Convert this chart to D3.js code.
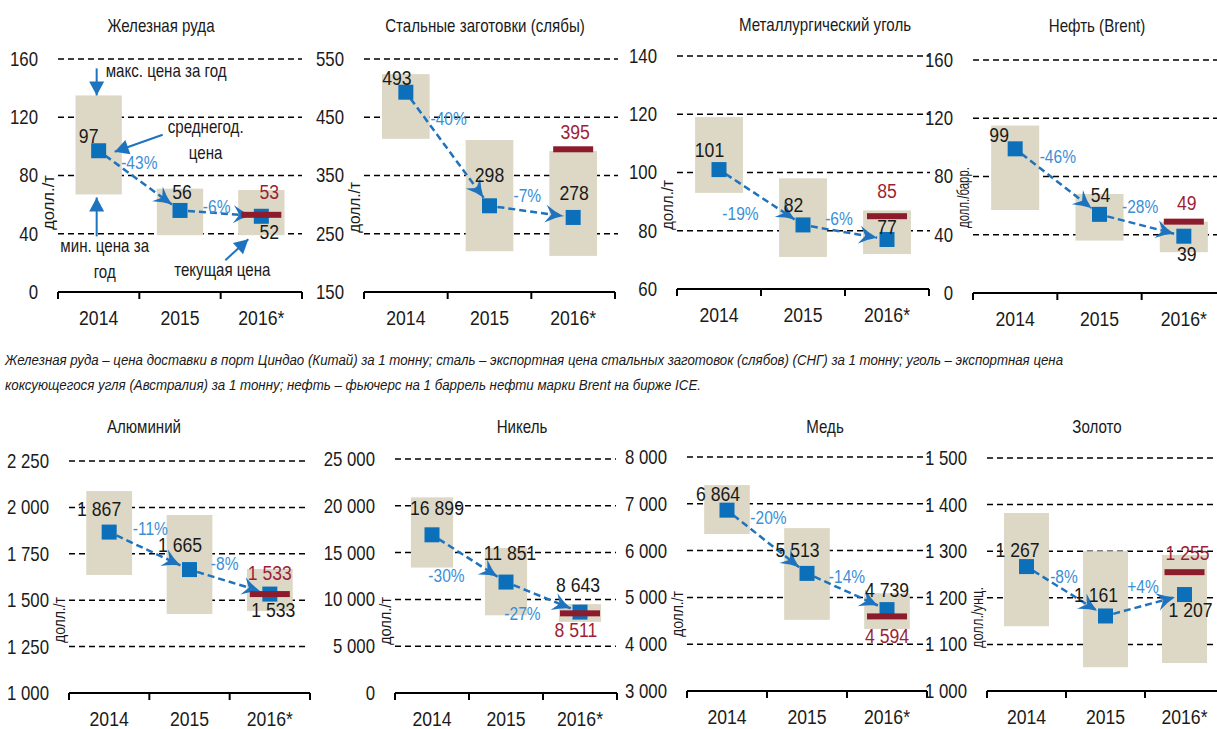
<!DOCTYPE html>
<meta charset="utf-8">
<script src="https://cdn.jsdelivr.net/npm/d3@7"></script>
<style>
body { margin: 0; background: #fff; }
text { font-family: "Liberation Sans", Arial, sans-serif; fill: #1a1a1a; }
.grid line { stroke: #000; stroke-width: 1.5px; stroke-dasharray: 6,4; }
.box { fill: #ddd8c5; }
.avg { fill: #0b6fba; }
.cur { fill: #8c1c2c; }
.chg { fill: #3b8fd6; }
.curlbl { fill: #9e1f35; }
.trend { fill: none; stroke: #1e73be; stroke-width: 2.5px; stroke-dasharray: 7,4; }
.note line { stroke: #1e73be; stroke-width: 2px; }
</style>
<body>
<script>

var years = ["2014", "2015", "2016*"];
var titles = ["Железная руда", "Стальные заготовки (слябы)", "Металлургический уголь", "Нефть (Brent)",
              "Алюминий", "Никель", "Медь", "Золото"];
var units = ["долл./т", "долл./т", "долл./т", "долл./барр.", "долл./т", "долл./т", "долл./т", "долл./унц."];

// среднегодовая цена
var avgPrice = [[97, 56, 52], [493, 298, 278], [101, 82, 77], [99, 54, 39],
                [1867, 1665, 1533], [16899, 11851, 8643], [6864, 5513, 4739], [1267, 1161, 1207]];
// макс. и мин. цена за год
var maxPrice = [[135, 71, 70], [524, 411, 392], [119, 98, 87], [115, 68, 49],
                [2088, 1959, 1668], [20900, 15500, 9500], [7400, 6480, 5090], [1382, 1300, 1292]];
var minPrice = [[67, 39, 39], [413, 220, 212], [93, 71, 72], [57, 36, 28],
                [1636, 1426, 1442], [13400, 8300, 7600], [6355, 4520, 4325], [1139, 1051, 1060]];
// текущая цена
var curPrice = [53, 395, 85, 49, 1533, 8511, 4594, 1255];
var changes = [["-43%", "-6%"], ["-40%", "-7%"], ["-19%", "-6%"], ["-46%", "-28%"],
               ["-11%", "-8%"], ["-30%", "-27%"], ["-20%", "-14%"], ["-8%", "+4%"]];
var yTicks = [[0, 40, 80, 120, 160], [150, 250, 350, 450, 550], [60, 80, 100, 120, 140], [0, 40, 80, 120, 160],
              [1000, 1250, 1500, 1750, 2000, 2250], [0, 5000, 10000, 15000, 20000, 25000],
              [3000, 4000, 5000, 6000, 7000, 8000], [1000, 1100, 1200, 1300, 1400, 1500]];

var footnote = ["Железная руда – цена доставки в порт Циндао (Китай) за 1 тонну; сталь – экспортная цена стальных заготовок (слябов) (СНГ) за 1 тонну; уголь – экспортная цена",
                "коксующегося угля (Австралия) за 1 тонну; нефть – фьючерс на 1 баррель нефти марки Brent на бирже ICE."];

// panel placement and label offsets (pixels)
var layout = [
  {x0: 58, x1: 302, gx: 302, top: 59, bot: 292, tx: 161, ty: 32, uy: 230, uw: 55,
   avgOff: [[-10, -8], [2, -11], [8, 23]], curOff: [8, -16], chgOff: [[0, -12], [-4, 0]]},
  {x0: 364, x1: 615, gx: 618, top: 59, bot: 292, tx: 485, ty: 32, uy: 233, uw: 51,
   avgOff: [[-9, -7], [0, -24], [1, -17]], curOff: [2, -10], chgOff: [[1, -24], [-4, -10]]},
  {x0: 677, x1: 929, gx: 930, top: 56, bot: 289, tx: 825, ty: 31, uy: 230, uw: 50,
   avgOff: [[-9.5, -12.6], [-9.5, -13], [0, -5]], curOff: [0, -18], chgOff: [[-20.5, 23], [-6, -7]]},
  {x0: 973, x1: 1226, gx: 1217, top: 60, bot: 293, tx: 1097, ty: 32, uy: 228, uw: 61,
   avgOff: [[-16, -6.5], [1, -12], [3, 25]], curOff: [3, -12], chgOff: [[0.5, -19], [-1.5, -12.5]]},
  {x0: 69, x1: 310, gx: 306, top: 461, bot: 693, tx: 144, ty: 433, uy: 643, uw: 46,
   avgOff: [[-10, -16], [-9.5, -17.5], [3.5, 23]], curOff: [0, -14], chgOff: [[1, -16], [-5, -12]]},
  {x0: 395, x1: 617, gx: 616, top: 459, bot: 693, tx: 522, ty: 433, uy: 645, uw: 48,
   avgOff: [[5, -20], [4, -22], [-2, -20]], curOff: [-4, 24], chgOff: [[-22.5, 23.5], [-20.5, 23]]},
  {x0: 687, x1: 927, gx: 930, top: 457, bot: 691, tx: 825, ty: 433, uy: 637, uw: 46,
   avgOff: [[-9, -9], [-9.5, -16.5], [0, -12.6]], curOff: [0, 26.5], chgOff: [[1.5, -18], [0, -8.5]]},
  {x0: 987, x1: 1224, gx: 1217, top: 458, bot: 691, tx: 1097, ty: 433, uy: 648, uw: 61,
   avgOff: [[-9, -9.6], [-9.5, -14], [6, 22.5]], curOff: [3, -12], chgOff: [[-2, -8], [-2, -12]]}
];

var width = 1217, height = 729;
var S = 0.84;   // condensed look: squeeze text horizontally
var fmt = d3.formatLocale({decimal: ",", thousands: " ", grouping: [3], currency: ["", ""]}).format(",d");

function at(x, y, rot) {
  return "translate(" + x + "," + y + ")" + (rot ? " rotate(" + rot + ")" : "") + " scale(" + S + ",1)";
}

var svg = d3.select("body").append("svg")
    .attr("width", width)
    .attr("height", height);

var defs = svg.append("defs");
defs.append("marker")
    .attr("id", "chev")
    .attr("markerUnits", "userSpaceOnUse")
    .attr("viewBox", "-19 -10 21 20")
    .attr("markerWidth", 21).attr("markerHeight", 20)
    .attr("refX", 0).attr("refY", 0)
    .attr("orient", "auto")
  .append("path")
    .attr("d", "M0,0 Q-9,-3 -18,-9 L-12,0 L-18,9 Q-9,3 0,0 Z")
    .attr("fill", "#1e73be");
defs.append("marker")
    .attr("id", "tri")
    .attr("markerUnits", "userSpaceOnUse")
    .attr("viewBox", "-15 -8 16 16")
    .attr("markerWidth", 16).attr("markerHeight", 16)
    .attr("refX", 0).attr("refY", 0)
    .attr("orient", "auto")
  .append("path")
    .attr("d", "M0,0 L-14,-7.5 L-14,7.5 Z")
    .attr("fill", "#1e73be");

layout.forEach(function(L, i) {
  var g = svg.append("g");
  var x = d3.scaleBand().domain(years).range([L.x0, L.x1]).paddingInner(0.43).paddingOuter(0.215);
  var y = d3.scaleLinear().domain(d3.extent(yTicks[i])).range([L.bot, L.top]);
  var cx = function(j) { return x(years[j]) + x.bandwidth() / 2; };

  // title
  g.append("text")
      .attr("transform", at(L.tx, L.ty))
      .attr("text-anchor", "middle")
      .style("font-size", "18px")
      .text(titles[i]);

  // dashed grid
  g.append("g").attr("class", "grid")
    .selectAll("line")
    .data(yTicks[i].slice(1))
    .enter().append("line")
      .attr("x1", L.x0).attr("x2", L.gx)
      .attr("y1", function(d) { return y(d); })
      .attr("y2", function(d) { return y(d); });

  // y tick labels
  var ya = g.append("g")
      .attr("transform", "translate(" + L.x0 + ",0)")
      .call(d3.axisLeft(y).tickValues(yTicks[i]).tickSize(0).tickPadding(20).tickFormat(fmt));
  ya.select(".domain").remove();
  ya.selectAll("text")
      .attr("fill", "#1a1a1a")
      .attr("x", -20 / S)
      .attr("transform", "scale(" + S + ",1)")
      .style("font-size", "20px")
      .style("font-family", null);
  ya.attr("font-family", null);

  // x axis with ticks on band edges
  g.append("line")
      .attr("x1", L.x0).attr("x2", Math.min(L.x1, width))
      .attr("y1", L.bot).attr("y2", L.bot)
      .attr("stroke", "#000").attr("stroke-width", 2);
  g.selectAll(".xt")
    .data(d3.range(years.length + 1))
    .enter().append("line")
      .attr("x1", function(d) { return L.x0 + d * x.step(); })
      .attr("x2", function(d) { return L.x0 + d * x.step(); })
      .attr("y1", L.bot).attr("y2", L.bot + 7)
      .attr("stroke", "#000").attr("stroke-width", 2);
  g.selectAll(".xl")
    .data(years)
    .enter().append("text")
      .attr("transform", function(d) { return at(x(d) + x.bandwidth() / 2, L.bot + 33); })
      .attr("text-anchor", "middle")
      .style("font-size", "21px")
      .text(function(d) { return d; });

  // unit label
  g.append("text")
      .attr("transform", "translate(" + (L.x0 - 4) + "," + L.uy + ") rotate(-90)")
      .attr("textLength", L.uw)
      .attr("lengthAdjust", "spacingAndGlyphs")
      .style("font-size", "17px")
      .text(units[i]);

  // min-max boxes
  g.selectAll(".box")
    .data(years)
    .enter().append("rect")
      .attr("class", "box")
      .attr("x", function(d) { return x(d); })
      .attr("width", x.bandwidth())
      .attr("y", function(d, j) { return y(maxPrice[i][j]); })
      .attr("height", function(d, j) { return y(minPrice[i][j]) - y(maxPrice[i][j]); });

  // dashed trend arrows
  for (var j = 0; j < 2; j++) {
    var ax = cx(j), ay = y(avgPrice[i][j]), bx = cx(j + 1), by = y(avgPrice[i][j + 1]);
    var dx = bx - ax, dy = by - ay, len = Math.sqrt(dx * dx + dy * dy);
    g.append("line")
        .attr("class", "trend")
        .attr("x1", ax + dx / len * 8).attr("y1", ay + dy / len * 8)
        .attr("x2", bx - dx / len * 10).attr("y2", by - dy / len * 10)
        .attr("marker-end", "url(#chev)");
    g.append("text")
        .attr("class", "chg")
        .attr("transform", at((ax + bx) / 2 + L.chgOff[j][0], (ay + by) / 2 + L.chgOff[j][1]))
        .attr("text-anchor", "middle")
        .style("font-size", "18.5px")
        .text(changes[i][j]);
  }

  // average price squares
  g.selectAll(".avg")
    .data(avgPrice[i])
    .enter().append("rect")
      .attr("class", "avg")
      .attr("x", function(d, j) { return cx(j) - 7.5; })
      .attr("y", function(d) { return y(d) - 7.5; })
      .attr("width", 15).attr("height", 15);

  // current price bar
  g.append("rect")
      .attr("class", "cur")
      .attr("x", cx(2) - 20)
      .attr("y", y(curPrice[i]) - 3)
      .attr("width", 40).attr("height", 6);

  g.selectAll(".avglbl")
    .data(avgPrice[i])
    .enter().append("text")
      .attr("transform", function(d, j) { return at(cx(j) + L.avgOff[j][0], y(d) + L.avgOff[j][1]); })
      .attr("text-anchor", "middle")
      .style("font-size", "21px")
      .text(fmt);

  g.append("text")
      .attr("class", "curlbl")
      .attr("transform", at(cx(2) + L.curOff[0], y(curPrice[i]) + L.curOff[1]))
      .attr("text-anchor", "middle")
      .style("font-size", "21px")
      .text(fmt(curPrice[i]));

  // legend notes on the first panel
  if (i === 0) {
    var n = g.append("g").attr("class", "note").style("font-size", "18px");
    var c0 = cx(0), c2 = cx(2);
    var yMax = y(maxPrice[0][0]), yMin = y(minPrice[0][0]), yAvg = y(avgPrice[0][0]), yMin2 = y(minPrice[0][2]);
    n.append("line").attr("x1", c0 - 2).attr("y1", yMax - 27).attr("x2", c0 - 2).attr("y2", yMax)
        .attr("marker-end", "url(#tri)");
    n.append("text").attr("transform", at(c0 + 7, yMax - 18)).text("макс. цена за год");
    n.append("line").attr("x1", c0 + 64).attr("y1", yAvg - 16).attr("x2", c0 + 16).attr("y2", yAvg + 1)
        .attr("marker-end", "url(#tri)");
    n.append("text").attr("transform", at(c0 + 107, yAvg - 18)).attr("text-anchor", "middle").text("среднегод.");
    n.append("text").attr("transform", at(c0 + 107, yAvg + 8)).attr("text-anchor", "middle").text("цена");
    n.append("line").attr("x1", c0 - 2).attr("y1", yMin + 42).attr("x2", c0 - 2).attr("y2", yMin + 3)
        .attr("marker-end", "url(#tri)");
    n.append("text").attr("transform", at(c0 + 6, yMin + 58)).attr("text-anchor", "middle").text("мин. цена за");
    n.append("text").attr("transform", at(c0 + 6, yMin + 84)).attr("text-anchor", "middle").text("год");
    n.append("line").attr("x1", c2 - 36).attr("y1", yMin2 + 25).attr("x2", c2 - 13).attr("y2", yMin2 + 4)
        .attr("marker-end", "url(#tri)");
    n.append("text").attr("transform", at(c2 - 39, yMin2 + 41)).attr("text-anchor", "middle").text("текущая цена");
  }
});

var footWidth = [1058, 696];
svg.append("g")
    .style("font-size", "15px")
    .style("font-style", "italic")
  .selectAll("text")
  .data(footnote)
  .enter().append("text")
    .attr("x", 5)
    .attr("y", function(d, k) { return 365 + k * 25; })
    .attr("textLength", function(d, k) { return footWidth[k]; })
    .attr("lengthAdjust", "spacingAndGlyphs")
    .text(function(d) { return d; });

</script>
</body>
